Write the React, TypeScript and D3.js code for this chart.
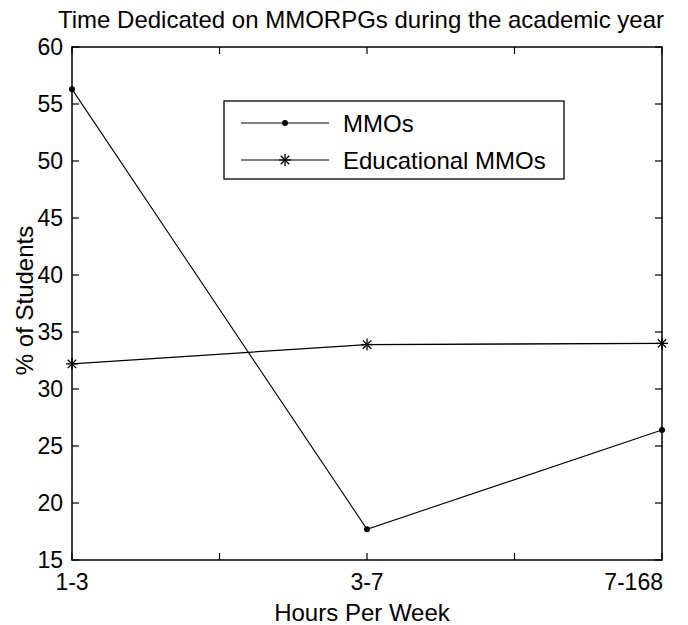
import * as d3 from "d3";

// Categories and series values
const categories = ["1-3", "3-7", "7-168"];
const mmos = [56.3, 17.7, 26.4];
const eduMmos = [32.2, 33.9, 34.0];
const yTicks = [15, 20, 25, 30, 35, 40, 45, 50, 55, 60];
const xTicks = [0, 0.5, 1, 1.5, 2];
const xTickLabels = ["1-3", "", "3-7", "", "7-168"];
const seriesNames = ["MMOs", "Educational MMOs"];

const width = 688;
const height = 625;
const margin = { top: 47, right: 26, bottom: 65, left: 72 };
const font = "'Liberation Sans', Arial, sans-serif";
const fs = 23;

function Star({ cx, cy, r }: { cx: number; cy: number; r: number }) {
    const d = r * 0.7;
    return (
        <g stroke="#000" strokeWidth={1.3}>
            <line x1={cx} y1={cy - r} x2={cx} y2={cy + r} />
            <line x1={cx - r} y1={cy} x2={cx + r} y2={cy} />
            <line x1={cx - d} y1={cy - d} x2={cx + d} y2={cy + d} />
            <line x1={cx - d} y1={cy + d} x2={cx + d} y2={cy - d} />
        </g>
    );
}

export default function App() {
    const x = d3.scaleLinear()
        .domain([0, categories.length - 1])
        .range([margin.left, width - margin.right]);

    const y = d3.scaleLinear()
        .domain([15, 60])
        .range([height - margin.bottom, margin.top]);

    const line = d3.line<number>()
        .x((_, i) => x(i))
        .y((d) => y(d));

    const x0 = margin.left;
    const x1 = width - margin.right;
    const y0 = height - margin.bottom;
    const y1 = margin.top;
    const tick = 7;

    return (
        <svg
            width={width}
            height={height}
            viewBox={`0 0 ${width} ${height}`}
            style={{ position: "absolute", left: 0, top: 0, background: "#fff" }}
            fontFamily={font}
        >
            <rect width={width} height={height} fill="#fff" />

            {/* title */}
            <text x={361} y={28} textAnchor="middle" fontSize={24} fill="#000">
                Time Dedicated on MMORPGs during the academic year
            </text>

            {/* axes box */}
            <rect x={x0} y={y1} width={x1 - x0} height={y0 - y1} fill="none" stroke="#000" strokeWidth={1.5} />

            {/* y ticks, both sides */}
            {yTicks.map((t) => (
                <g key={`y${t}`}>
                    <line x1={x0} x2={x0 + tick} y1={y(t)} y2={y(t)} stroke="#000" strokeWidth={1.2} />
                    <line x1={x1} x2={x1 - tick} y1={y(t)} y2={y(t)} stroke="#000" strokeWidth={1.2} />
                    <text x={x0 - 9} y={y(t)} dy="0.36em" textAnchor="end" fontSize={fs} fill="#000">
                        {t}
                    </text>
                </g>
            ))}

            {/* x ticks, top and bottom */}
            {xTicks.map((t, i) => (
                <g key={`x${t}`}>
                    <line x1={x(t)} x2={x(t)} y1={y0} y2={y0 - tick} stroke="#000" strokeWidth={1.2} />
                    <line x1={x(t)} x2={x(t)} y1={y1} y2={y1 + tick} stroke="#000" strokeWidth={1.2} />
                    <text
                        x={i === xTicks.length - 1 ? x(t) + 1 : x(t)}
                        y={y0 + 30}
                        textAnchor={i === xTicks.length - 1 ? "end" : "middle"}
                        fontSize={fs}
                        fill="#000"
                    >
                        {xTickLabels[i]}
                    </text>
                </g>
            ))}

            {/* axis labels */}
            <text x={362} y={621} textAnchor="middle" fontSize={24} fill="#000">
                Hours Per Week
            </text>
            <text
                transform={`translate(33,${(y0 + y1) / 2 - 3}) rotate(-90)`}
                textAnchor="middle"
                fontSize={24}
                fill="#000"
            >
                % of Students
            </text>

            {/* series */}
            <path d={line(mmos)!} fill="none" stroke="#000" strokeWidth={1.1} />
            {mmos.map((v, i) => (
                <circle key={`m${i}`} cx={x(i)} cy={y(v)} r={3} fill="#000" />
            ))}
            <path d={line(eduMmos)!} fill="none" stroke="#000" strokeWidth={1.3} />
            {eduMmos.map((v, i) => (
                <Star key={`e${i}`} cx={x(i)} cy={y(v)} r={6} />
            ))}

            {/* legend */}
            <rect x={224} y={101} width={340} height={78} fill="#fff" stroke="#000" strokeWidth={1.3} />
            {seriesNames.map((name, i) => {
                const ly = 123 + i * 37;
                return (
                    <g key={name}>
                        <line x1={241} x2={329} y1={ly} y2={ly} stroke="#000" strokeWidth={1.2} />
                        {i === 0 ? <circle cx={285} cy={ly} r={3} fill="#000" /> : <Star cx={285} cy={ly} r={6} />}
                        <text x={343} y={ly} dy="0.36em" fontSize={24} fill="#000">
                            {name}
                        </text>
                    </g>
                );
            })}
        </svg>
    );
}
